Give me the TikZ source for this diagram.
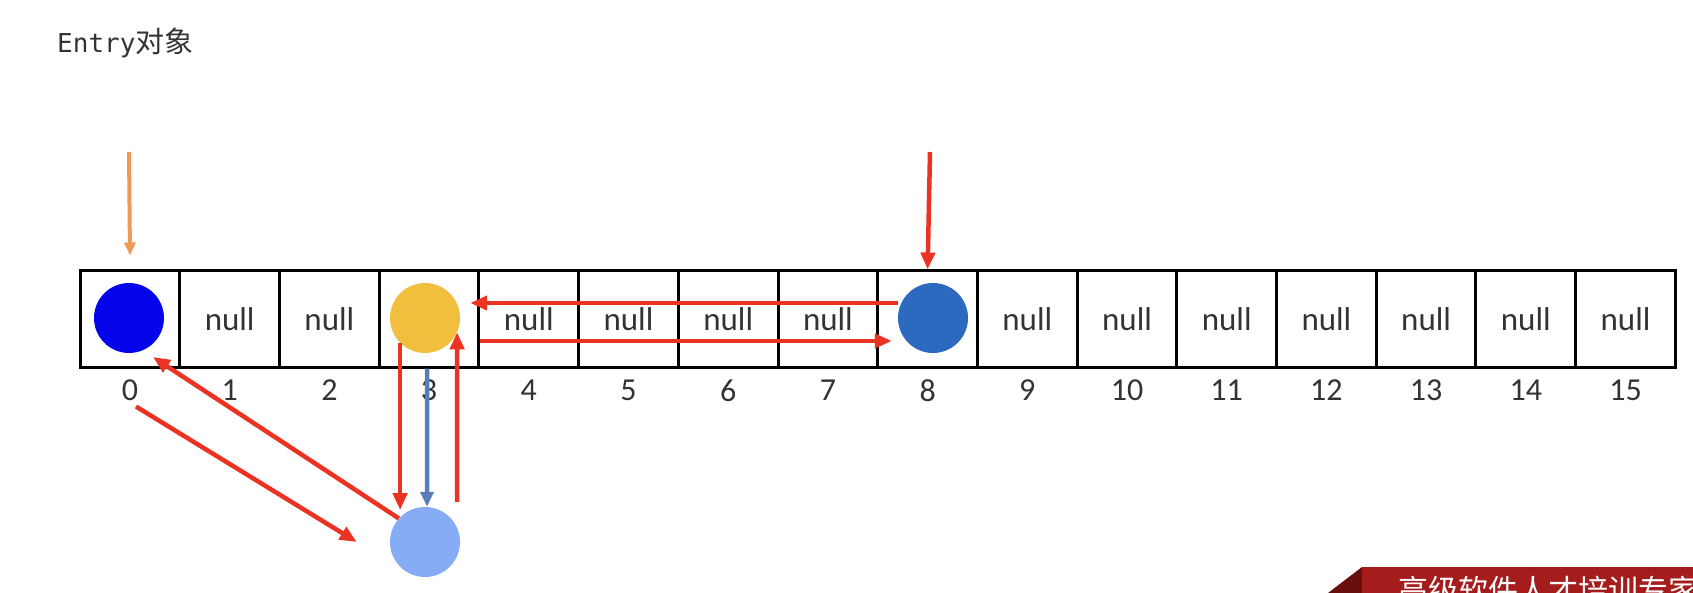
\documentclass[tikz,border=0pt]{standalone}
\usepackage{fontspec}
\setmainfont{Carlito}
\newfontfamily\monofont{DejaVu Sans Mono}
\newfontfamily\cjk{Noto Sans CJK SC}
\usepackage{xcolor}
\usetikzlibrary{arrows.meta, positioning}
\usetikzlibrary{calc}

\definecolor{entryblue}{RGB}{5,5,235}
\definecolor{entryyellow}{RGB}{242,190,62}
\definecolor{entrydark}{RGB}{44,106,192}
\definecolor{entrylight}{RGB}{133,172,245}
\definecolor{ptrorange}{RGB}{240,152,85}
\definecolor{linkred}{RGB}{234,51,35}
\definecolor{linksteel}{RGB}{88,125,185}
\definecolor{textgray}{RGB}{51,51,51}
\definecolor{bannerred}{RGB}{165,28,28}
\definecolor{bannerdark}{RGB}{105,14,14}

\tikzset{
	cell/.style={draw, line width=3pt, minimum width=99.7pt, minimum height=96pt, inner sep=0pt,
		font=\fontsize{33}{33}\selectfont, text=textgray},
	idx/.style={font=\fontsize{32}{32}\selectfont, text=textgray, inner sep=0pt, label distance=11pt},
	entry/.style={circle, minimum size=70pt, inner sep=0pt},
	link/.style={line width=4.5pt, draw=linkred, -{Triangle[length=17pt,width=14pt]}},
}

\begin{document}
\begin{tikzpicture}[x=1pt,y=-1pt]
		\clip (0,0) rectangle (1693,593);
		\node[anchor=west, inner sep=0pt, text=textgray] (title) at (57,43)
			{{\monofont\fontsize{26}{26}\selectfont Entry}{\cjk\fontsize{29}{29}\selectfont 对象}};

		% the table
		\draw (130,319)    node[cell, label={[idx]below:0}] (c0) {}
		(229.7,319)  node[cell, label={[idx]below:1}] (c1) {null}
		(329.4,319)  node[cell, label={[idx]below:2}] (c2) {null}
		(429.1,319)  node[cell, label={[idx]below:3}] (c3) {}
		(528.8,319)  node[cell, label={[idx]below:4}] (c4) {null}
		(628.5,319)  node[cell, label={[idx]below:5}] (c5) {null}
		(728.2,319)  node[cell, label={[idx]below:6}] (c6) {null}
		(827.9,319)  node[cell, label={[idx]below:7}] (c7) {null}
		(927.6,319)  node[cell, label={[idx]below:8}] (c8) {}
		(1027.3,319) node[cell, label={[idx]below:9}] (c9) {null}
		(1127,319)   node[cell, label={[idx]below:10}] (c10) {null}
		(1226.7,319) node[cell, label={[idx]below:11}] (c11) {null}
		(1326.4,319) node[cell, label={[idx]below:12}] (c12) {null}
		(1426.1,319) node[cell, label={[idx]below:13}] (c13) {null}
		(1525.8,319) node[cell, label={[idx]below:14}] (c14) {null}
		(1625.5,319) node[cell, label={[idx]below:15}] (c15) {null};

		% entries
		\node[entry, fill=entryblue] (e0) at (129,318) {};
		\node[entry, fill=entryyellow] (e3) at (425,318) {};
		\node[entry, fill=entrydark] (e8) at (933,318) {};
		\node[entry, fill=entrylight] (eb) at (425,542) {};

		\coordinate (ptr0) at (129,152);
		\coordinate (ptr8) at (930,152);

		\draw[line width=4pt, draw=ptrorange, -{Triangle[length=13pt,width=11pt]}] (ptr0) -- ([yshift=14pt]c0.north);
		\draw[link] (ptr8) -- (c8.north);
		\draw[link] ([yshift=15pt]e8.west) -- ([xshift=10pt,yshift=15pt]e3.east);
		\draw[link] ([yshift=-22pt]c3.east) -- ([xshift=-6pt,yshift=-23pt]e8.west);
		\draw[link] (e3.225) -- ([yshift=7pt]eb.135);
		\draw[line width=4.5pt, draw=linksteel, -{Triangle[length=15pt,width=13pt]}] ([xshift=-2pt]c3.south) -- ([xshift=2pt]eb.north);
		\draw[link] ([xshift=32pt,yshift=5pt]eb.north) -- (e3.-24);
		\draw[link] (eb.138) -- ([xshift=24pt,yshift=-39pt]e0.center);
		\draw[link] ([xshift=6pt,yshift=-38pt]c0.south) -- ([xshift=-33pt]eb.west);

		% banner
		\fill[bannerdark] (1328,593) -- (1362,567) -- (1362,593) -- cycle;
		\fill[bannerred] (1362,567) rectangle (1693,593);
		\node[anchor=west, inner sep=0pt, text=white, font=\cjk\fontsize{30}{30}\selectfont] (brand) at (1398,590) {高级软件人才培训专家};
	\end{tikzpicture}
\end{document}
